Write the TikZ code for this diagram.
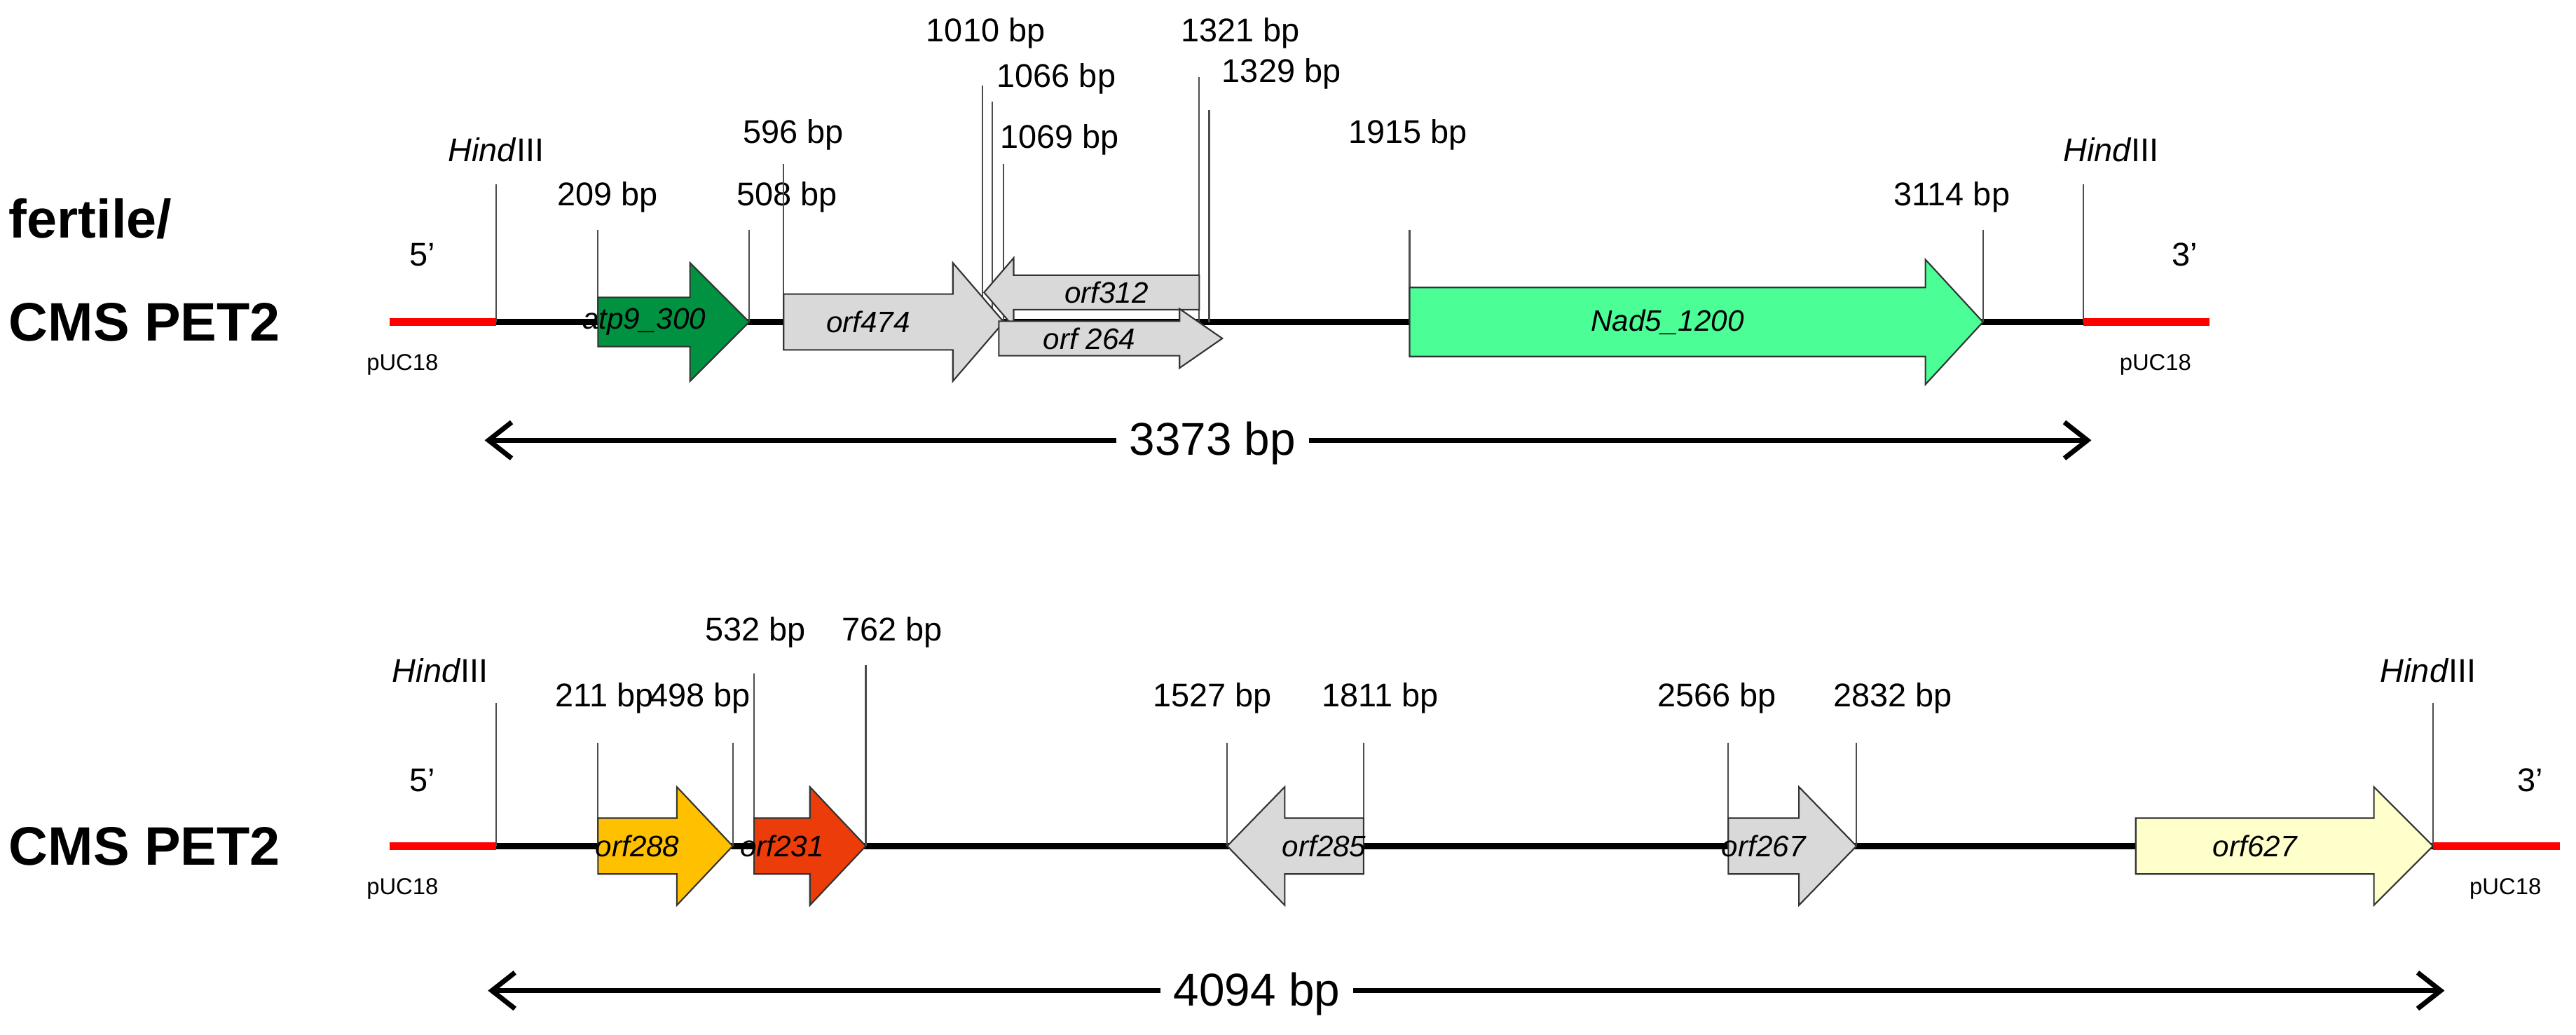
\documentclass[tikz,border=0pt]{standalone}
\usepackage{fontspec}
\setmainfont{Liberation Sans}
\usetikzlibrary{arrows.meta}
\definecolor{atpg}{RGB}{0,145,65}
\definecolor{nadg}{RGB}{75,255,150}
\definecolor{gry}{RGB}{217,217,217}
\definecolor{ylw}{RGB}{255,192,0}
\definecolor{org}{RGB}{235,60,10}
\definecolor{pale}{RGB}{255,255,204}
\newcommand\gene[8]{%
  \draw[gene,fill=#7] (#1,#4-#5)--(#3,#4-#5)--(#3,#4-#6)--(#2,#4)--(#3,#4+#6)--(#3,#4+#5)--(#1,#4+#5)--cycle;
  \node[glab] at ({(#1+#3)/2},#4) {#8};}
\begin{document}
\begin{tikzpicture}[x=1pt,y=-1pt,
  bb/.style={line width=4pt,black},
  rd/.style={line width=5pt,red},
  tk/.style={line width=0.9pt,black!70},
  gene/.style={line width=0.9pt,draw=black!80},
  glab/.style={font=\fontsize{18}{18}\selectfont\itshape},
  bp/.style={font=\fontsize{20}{20}\selectfont},
  big/.style={font=\fontsize{33}{33}\selectfont\bfseries,anchor=west},
  dim/.style={font=\fontsize{28}{28}\selectfont,fill=white,inner xsep=8pt},
  small/.style={font=\fontsize{14}{14}\selectfont},
  darr/.style={line width=3pt,{Straight Barb[length=14pt,width=22pt]}-{Straight Barb[length=14pt,width=22pt]}}]
\useasboundingbox (0,0) rectangle (1568,630);
% ---------- top ----------
\node[big] (t1) at (2,133) {fertile/};
\node[big] (t2) at (2,196) {CMS PET2};
\coordinate (a0) at (237,196); \coordinate (a1) at (302,196);
\coordinate (a2) at (1268,196); \coordinate (a3) at (1345,196);
\draw[rd] (a0)--(a1); \draw[rd] (a2)--(a3); \draw[bb] (a1)--(a2);
\node[bp] (h1) at (302,91) {\textit{Hind}III}; \draw[tk] (302,112)--(a1);
\node[bp] (h2) at (1285,91) {\textit{Hind}III}; \draw[tk] (1268,112)--(a2);
\node[bp] (p5) at (257,155) {5’}; \node[bp] (p3) at (1330,155) {3’};
\node[small] (u1) at (245,222) {pUC18}; \node[small] (u2) at (1312,222) {pUC18};
\foreach \x/\t/\lx/\ly/\ty in {364/209/370/120/140, 456/508/479/120/140, 477/596/483/82/100,
  598/1010/600/20/52, 604/1066/643/48/62, 611/1069/645/85/100, 730/1321/755/20/47,
  736/1329/780/45/67, 858/1915/857/82/140, 1207/3114/1188/120/140}
  {\draw[tk] (\x,\ty)--(\x,196); \node[bp] at (\lx,\ly) {\t\ bp};}
\gene{364}{456}{420}{196}{15}{36}{atpg}{atp9\_300}
\gene{730}{599}{617}{178}{10.5}{21}{gry}{orf312}
\gene{477}{611}{580}{196}{17}{36}{gry}{orf474}
\gene{608}{744}{718}{206}{10.5}{18}{gry}{orf 264}
\gene{858}{1207}{1172}{196}{21}{38}{nadg}{Nad5\_1200}
\node[dim] (d1) at (738,270) {3373 bp};
\coordinate (l1) at (295,268); \coordinate (r1) at (1273,268);
\draw[darr] (l1)--(r1);
\node[dim] at (738,270) {3373 bp};
% ---------- bottom ----------
\node[big] (t3) at (2,515) {CMS PET2};
\coordinate (b0) at (237,515); \coordinate (b1) at (302,515);
\coordinate (b2) at (1481,515); \coordinate (b3) at (1558,515);
\draw[rd] (b0)--(b1); \draw[rd] (b2)--(b3); \draw[bb] (b1)--(b2);
\node[bp] (h3) at (268,408) {\textit{Hind}III}; \draw[tk] (302,428)--(b1);
\node[bp] (h4) at (1478,408) {\textit{Hind}III}; \draw[tk] (1481,428)--(b2);
\node[bp] (q5) at (257,475) {5’}; \node[bp] (q3) at (1540,475) {3’};
\node[small] (v1) at (245,541) {pUC18}; \node[small] (v2) at (1525,541) {pUC18};
\foreach \x/\t/\lx/\ly/\ty in {364/211/368/425/452, 446/498/426/425/452, 459/532/460/385/410,
  527/762/543/385/405, 747/1527/738/425/452, 830/1811/840/425/452,
  1052/2566/1045/425/452, 1130/2832/1152/425/452}
  {\draw[tk] (\x,\ty)--(\x,515); \node[bp] at (\lx,\ly) {\t\ bp};}
\gene{364}{446}{412}{515}{17}{36}{ylw}{orf288}
\gene{459}{527}{493}{515}{17}{36}{org}{orf231}
\gene{830}{747}{782}{515}{17}{36}{gry}{orf285}
\gene{1052}{1130}{1095}{515}{17}{36}{gry}{orf267}
\gene{1300}{1481}{1445}{515}{17}{36}{pale}{orf627}
\coordinate (l2) at (297,603); \coordinate (r2) at (1488,603);
\draw[darr] (l2)--(r2);
\node[dim] (d2) at (765,605) {4094 bp};
\end{tikzpicture}
\end{document}
